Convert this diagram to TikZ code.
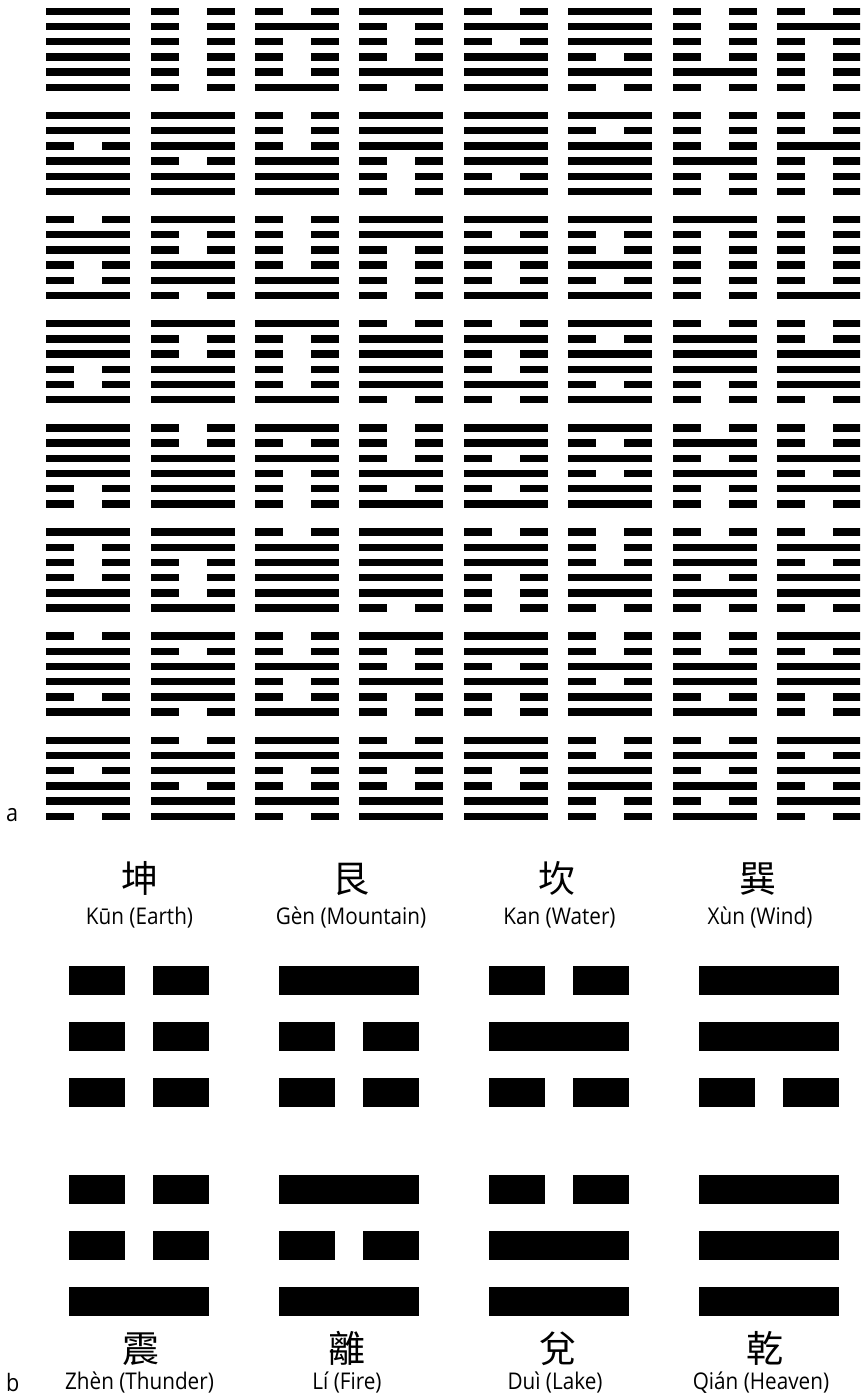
\documentclass[tikz,border=0pt]{standalone}
\usepackage{fontspec}
\setmainfont{Open Sans}
\newfontfamily\cjk{Noto Sans CJK TC}
\newfontfamily\labfont[FakeStretch=0.9]{Open Sans}
\tikzset{
  bar/.style={fill=black},
  zh/.style={inner sep=0pt, anchor=base, font=\cjk\fontsize{37}{42}\selectfont},
  lbl/.style={inner sep=0pt, anchor=base, font=\labfont\fontsize{23}{27}\selectfont},
  tag/.style={inner sep=0pt, anchor=base west, font=\labfont\fontsize{24}{28}\selectfont}
}
\begin{document}
\begin{tikzpicture}[x=1pt,y=-1pt]
\fill[white] (0,0) rectangle (860,1398);
\useasboundingbox (0,0) rectangle (860,1398);
\begin{scope}
\clip (0,0) rectangle (860,1398);
% King Wen sequence, lines listed top to bottom (1 = solid, 0 = broken)
\foreach \h [count=\i from 0] in {
 {1,1,1,1,1,1},{0,0,0,0,0,0},{0,1,0,0,0,1},{1,0,0,0,1,0},{0,1,0,1,1,1},{1,1,1,0,1,0},{0,0,0,0,1,0},{0,1,0,0,0,0},
 {1,1,0,1,1,1},{1,1,1,0,1,1},{0,0,0,1,1,1},{1,1,1,0,0,0},{1,1,1,1,0,1},{1,0,1,1,1,1},{0,0,0,1,0,0},{0,0,1,0,0,0},
 {0,1,1,0,0,1},{1,0,0,1,1,0},{0,0,0,0,1,1},{1,1,0,0,0,0},{1,0,1,0,0,1},{1,0,0,1,0,1},{1,0,0,0,0,0},{0,0,0,0,0,1},
 {1,1,1,0,0,1},{1,0,0,1,1,1},{1,0,0,0,0,1},{0,1,1,1,1,0},{0,1,0,0,1,0},{1,0,1,1,0,1},{0,1,1,1,0,0},{0,0,1,1,1,0},
 {1,1,1,1,0,0},{0,0,1,1,1,1},{1,0,1,0,0,0},{0,0,0,1,0,1},{1,1,0,1,0,1},{1,0,1,0,1,1},{0,1,0,1,0,0},{0,0,1,0,1,0},
 {1,0,0,0,1,1},{1,1,0,0,0,1},{0,1,1,1,1,1},{1,1,1,1,1,0},{0,1,1,0,0,0},{0,0,0,1,1,0},{0,1,1,0,1,0},{0,1,0,1,1,0},
 {0,1,1,1,0,1},{1,0,1,1,1,0},{0,0,1,0,0,1},{1,0,0,1,0,0},{1,1,0,1,0,0},{0,0,1,0,1,1},{0,0,1,1,0,1},{1,0,1,1,0,0},
 {1,1,0,1,1,0},{0,1,1,0,1,1},{1,1,0,0,1,0},{0,1,0,0,1,1},{1,1,0,0,1,1},{0,0,1,1,0,0},{0,1,0,1,0,1},{1,0,1,0,1,0}}{
  \pgfmathtruncatemacro\cc{mod(\i,8)}
  \pgfmathtruncatemacro\rr{div(\i,8)}
  \pgfmathsetmacro\xo{46.1+104.4*\cc}
  \pgfmathsetmacro\yo{11.3+104.14*\rr}
  \foreach \b [count=\j from 0] in \h {
    \pgfmathsetmacro\yt{\yo+15.2*\j-3.7}
    \ifnum\b=1
      \fill[bar] (\xo,\yt) rectangle ++(84,7.4);
    \else
      \fill[bar] (\xo,\yt) rectangle ++(28,7.4);
      \fill[bar] (\xo+56,\yt) rectangle ++(28,7.4);
    \fi
  }
}
\end{scope}
% Trigrams
\foreach \t/\xo/\yo in {
  {0,0,0}/68.7/980.3, {1,0,0}/278.7/980.3, {0,1,0}/488.7/980.3, {1,1,0}/698.7/980.3,
  {0,0,1}/68.7/1189.5, {1,0,1}/278.7/1189.5, {0,1,1}/488.7/1189.5, {1,1,1}/698.7/1189.5}{
  \foreach \b [count=\j from 0] in \t {
    \pgfmathsetmacro\yt{\yo+56*\j-14.2}
    \ifnum\b=1
      \fill[bar] (\xo,\yt) rectangle ++(140,28.4);
    \else
      \fill[bar] (\xo,\yt) rectangle ++(56,28.4);
      \fill[bar] (\xo+84,\yt) rectangle ++(56,28.4);
    \fi
  }
}
% Labels
\node[tag] (taga) at (6,821) {a};
\node[tag] (tagb) at (6,1391) {b};
\node[zh] (kunzh) at (140,892) {坤};
\node[zh] (genzh) at (351,892) {艮};
\node[zh] (kanzh) at (557,892) {坎};
\node[zh] (xunzh) at (758,892) {巽};
\node[lbl] (kun) at (139.5,924) {Kūn (Earth)};
\node[lbl] (gen) at (351,924) {Gèn (Mountain)};
\node[lbl] (kan) at (559.5,924) {Kan (Water)};
\node[lbl] (xun) at (760,924) {Xùn (Wind)};
\node[zh] (zhenzh) at (141,1362) {震};
\node[zh] (lizh) at (347,1362) {離};
\node[zh] (duizh) at (558,1362) {兌};
\node[zh] (qianzh) at (765,1362) {乾};
\node[lbl] (zhen) at (139.5,1389) {Zhèn (Thunder)};
\node[lbl] (li) at (347,1389) {Lí (Fire)};
\node[lbl] (dui) at (555,1389) {Duì (Lake)};
\node[lbl] (qian) at (761,1389) {Qián (Heaven)};
\end{tikzpicture}
\end{document}
